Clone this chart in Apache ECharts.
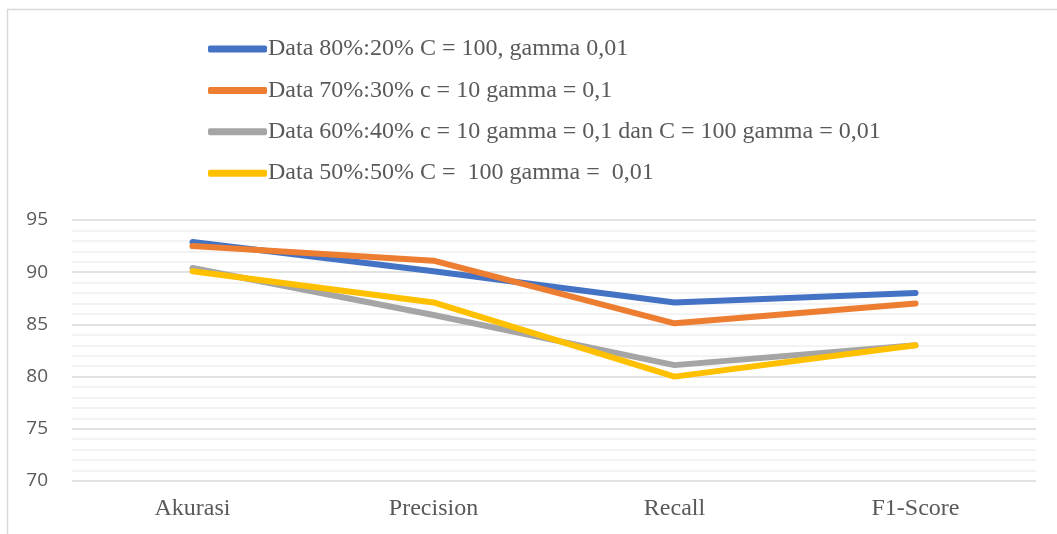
<!DOCTYPE html>
<html>
<head>
<meta charset="utf-8">
<script src="https://cdn.jsdelivr.net/npm/echarts@6/dist/echarts.min.js"></script>
<style>
  html, body { margin: 0; padding: 0; background: #fff; }
  #chart { width: 1057px; height: 534px; }
</style>
</head>
<body>
<div id="chart"></div>
<script>
// kategori sumbu x
var categories = ['Akurasi', 'Precision', 'Recall', 'F1-Score'];

// nama seri (legend)
var seriesNames = [
    'Data 80%:20% C = 100, gamma 0,01',
    'Data 70%:30% c = 10 gamma = 0,1',
    'Data 60%:40% c = 10 gamma = 0,1 dan C = 100 gamma = 0,01',
    'Data 50%:50% C =  100 gamma =  0,01'
];

// nilai tiap seri
var data8020 = [92.9, 90.1, 87.1, 88];
var data7030 = [92.5, 91.1, 85.1, 87];
var data6040 = [90.4, 85.9, 81.1, 83];
var data5050 = [90.1, 87.1, 80, 83];

var colors = ['#4472C4', '#ED7D31', '#A5A5A5', '#FFC000'];

var chart = echarts.init(document.getElementById('chart'));

function makeSeries(name, values) {
    return {
        name: name,
        type: 'line',
        data: values,
        symbol: 'none',
        smooth: false,
        lineStyle: { width: 6, cap: 'round', join: 'round' }
    };
}

var options = {
    animation: false,
    color: colors,
    graphic: [{
        type: 'rect',
        shape: { x: 7.5, y: 9.5, width: 1100, height: 600 },
        style: { fill: 'none', stroke: '#d9d9d9', lineWidth: 1.5 },
        silent: true
    }],
    legend: {
        orient: 'vertical',
        left: 203,
        top: 32,
        itemWidth: 59,
        itemHeight: 7,
        itemGap: 17.4,
        icon: 'roundRect',
        textStyle: {
            fontFamily: 'Liberation Serif',
            fontSize: 24,
            color: '#595959',
            padding: [0, 0, 0, -4]
        },
        data: seriesNames
    },
    grid: {
        left: 72,
        right: 21,
        top: 220,
        bottom: 53
    },
    xAxis: {
        type: 'category',
        data: categories,
        boundaryGap: true,
        axisLine: { show: false },
        axisTick: { show: false },
        axisLabel: {
            margin: 16,
            fontFamily: 'Liberation Serif',
            fontSize: 24,
            color: '#595959'
        }
    },
    yAxis: {
        type: 'value',
        min: 70,
        max: 95,
        interval: 5,
        axisLine: { show: false },
        axisTick: { show: false },
        axisLabel: {
            margin: 24,
            fontFamily: 'Open Sans',
            fontSize: 19,
            color: '#595959'
        },
        splitLine: { lineStyle: { color: '#d9d9d9', width: 1.5 } },
        minorTick: { show: false, splitNumber: 5 },
        minorSplitLine: { show: true, lineStyle: { color: '#efefef', width: 1.5 } }
    },
    series: [
        makeSeries(seriesNames[0], data8020),
        makeSeries(seriesNames[1], data7030),
        makeSeries(seriesNames[2], data6040),
        makeSeries(seriesNames[3], data5050)
    ]
};

chart.setOption(options);
</script>
</body>
</html>
